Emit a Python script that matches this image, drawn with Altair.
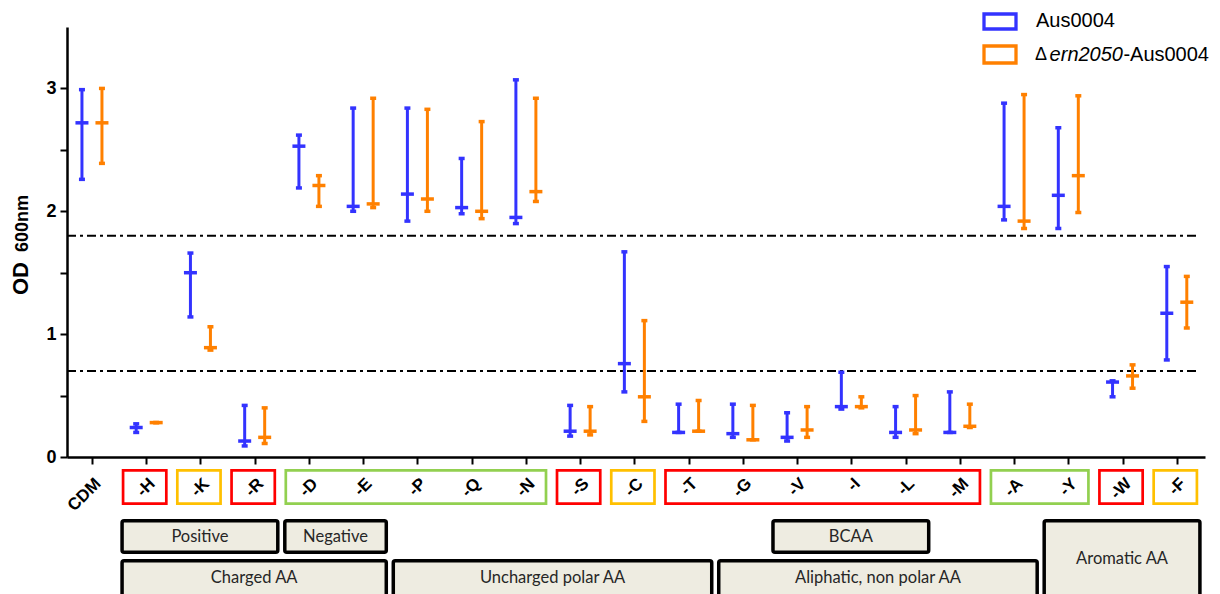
import altair as alt
import pandas as pd

# ---------------- data ----------------
categories = ["CDM", "-H", "-K", "-R", "-D", "-E", "-P", "-Q", "-N", "-S", "-C",
              "-T", "-G", "-V", "-I", "-L", "-M", "-A", "-Y", "-W", "-F"]

aus_mid = [2.72, 0.24, 1.50, 0.13, 2.53, 2.04, 2.14, 2.03, 1.95, 0.21, 0.76,
           0.20, 0.19, 0.16, 0.41, 0.20, 0.20, 2.04, 2.13, 0.61, 1.17]
aus_low = [2.26, 0.20, 1.14, 0.09, 2.19, 2.00, 1.92, 1.98, 1.90, 0.17, 0.53,
           0.20, 0.16, 0.13, 0.39, 0.16, 0.20, 1.93, 1.86, 0.49, 0.79]
aus_high = [2.99, 0.27, 1.66, 0.42, 2.62, 2.84, 2.84, 2.43, 3.07, 0.42, 1.67,
            0.43, 0.43, 0.36, 0.69, 0.41, 0.53, 2.88, 2.68, 0.62, 1.55]

ern_mid = [2.72, 0.28, 0.89, 0.16, 2.21, 2.06, 2.10, 2.00, 2.16, 0.21, 0.49,
           0.21, 0.14, 0.22, 0.41, 0.22, 0.25, 1.92, 2.29, 0.66, 1.26]
ern_low = [2.39, 0.28, 0.87, 0.11, 2.04, 2.03, 2.00, 1.94, 2.08, 0.18, 0.29,
           0.21, 0.14, 0.16, 0.40, 0.19, 0.24, 1.86, 1.99, 0.56, 1.05]
ern_high = [3.00, 0.28, 1.06, 0.40, 2.29, 2.92, 2.83, 2.73, 2.92, 0.41, 1.11,
            0.46, 0.42, 0.41, 0.49, 0.50, 0.43, 2.95, 2.94, 0.75, 1.47]

thresholds = [1.8, 0.7]

label_box_first = ["-H", "-K", "-R", "-D", "-S", "-C", "-T", "-A", "-W", "-F"]
label_box_last = ["-H", "-K", "-R", "-N", "-S", "-C", "-M", "-Y", "-W", "-F"]
label_box_kind = ["red", "amber", "red", "green", "red", "amber", "red", "green", "red", "amber"]

group_names = ["Positive", "Negative", "BCAA", "Charged AA", "Uncharged polar AA",
               "Aliphatic, non polar AA", "Aromatic AA"]
group_first = ["-H", "-D", "-V", "-H", "-P", "-G", "-Y"]
group_last = ["-R", "-E", "-L", "-E", "-T", "-A", "-F"]
group_row = ["top", "top", "top", "bottom", "bottom", "bottom", "both"]

series_names = ["Aus0004", "\u0394ern2050-Aus0004"]

# ---------------- styles ----------------
BLUE = "#3333FF"
ORANGE = "#FF8000"
BOX_COLOURS = {"red": "#FF0000", "amber": "#FFC000", "green": "#92D050"}
FONT = "Liberation Sans"

idx = list(range(len(categories)))
aus = pd.DataFrame({"idx": idx, "mid": aus_mid, "low": aus_low, "high": aus_high})
ern = pd.DataFrame({"idx": idx, "mid": ern_mid, "low": ern_low, "high": ern_high})
thr = pd.DataFrame({"t": thresholds})

lbl = pd.DataFrame({
    "a": [categories.index(c) for c in label_box_first],
    "b": [categories.index(c) for c in label_box_last],
    "kind": label_box_kind,
})
grp = pd.DataFrame({
    "name": group_names,
    "a": [categories.index(c) for c in group_first],
    "b": [categories.index(c) for c in group_last],
    "row": group_row,
})
one = pd.DataFrame({"k": [0]})

x_scale = alt.Scale(domain=[-0.46, 20.52], nice=False, zero=False)
y_scale = alt.Scale(domain=[0, 3.5], nice=False)

label_array = "[" + ",".join("'%s'" % c for c in categories) + "]"

x_axis = alt.Axis(
    values=idx, labelExpr=f"{label_array}[datum.value]", labelAngle=-45,
    labelAlign="right", labelBaseline="top", labelFontSize=17, labelFontWeight="bold",
    labelFont=FONT, labelColor="black", labelPadding=11, labelFlush=False,
    labelOverlap=False, tickSize=7, tickWidth=2, tickColor="black",
    domainWidth=2.5, domainColor="black", title=None, grid=False,
)
y_axis = alt.Axis(
    values=[0, 0.5, 1, 1.5, 2, 2.5, 3],
    labelExpr="datum.value % 1 == 0 ? format(datum.value, 'd') : ''",
    labelFontSize=18, labelFontWeight="bold", labelFont=FONT, labelColor="black",
    labelPadding=4, tickSize=7, tickWidth=2, tickColor="black",
    domainWidth=2.5, domainColor="black", title=None, grid=False,
)


def series_layers(df, colour, offset):
    base = alt.Chart(df)
    rule = base.mark_rule(color=colour, strokeWidth=3, xOffset=offset).encode(
        x=alt.X("idx:Q", scale=x_scale, axis=x_axis),
        y=alt.Y("low:Q", scale=y_scale, axis=y_axis),
        y2="high:Q",
    )
    caps = []
    for field, size in (("low", 6), ("high", 6), ("mid", 13)):
        caps.append(
            base.mark_tick(color=colour, orient="horizontal", size=size, thickness=3.5,
                           xOffset=offset, opacity=1).encode(
                x=alt.X("idx:Q", scale=x_scale),
                y=alt.Y(f"{field}:Q", scale=y_scale),
            )
        )
    return [rule] + caps


thr_layer = alt.Chart(thr).mark_rule(color="black", strokeWidth=2, strokeDash=[9, 4, 3, 4]).encode(
    y=alt.Y("t:Q", scale=y_scale), x=alt.value(0), x2=alt.value(1131)
)

# category label boxes
lbl_layer = alt.Chart(lbl).transform_calculate(
    x0="datum.a - 0.5", x1="datum.b + 0.5"
).mark_rect(fill="white", fillOpacity=0, strokeWidth=2.7, xOffset=4, x2Offset=-7).encode(
    x=alt.X("x0:Q", scale=x_scale), x2="x1:Q",
    y=alt.value(443.3), y2=alt.value(476.7),
    stroke=alt.Stroke("kind:N", scale=alt.Scale(domain=list(BOX_COLOURS.keys()),
                                                range=list(BOX_COLOURS.values())), legend=None),
)

ROWS = {"top": (493.8, 525.2), "bottom": (533.8, 576), "both": (493.8, 576)}
ROW_TEXT_Y = {"top": 509.5, "bottom": 551, "both": 532}
grp_layers = []
for row, (ya, yb) in ROWS.items():
    g = alt.Chart(grp).transform_filter(f"datum.row == '{row}'").transform_calculate(
        x0="datum.a - 0.5", x1="datum.b + 0.5", xm="(datum.a + datum.b) / 2"
    )
    grp_layers.append(
        g.mark_rect(fill="#EEECE1", stroke="black", strokeWidth=3.5, cornerRadius=2,
                    xOffset=3, x2Offset=-4).encode(
            x=alt.X("x0:Q", scale=x_scale), x2="x1:Q", y=alt.value(ya), y2=alt.value(yb)
        )
    )
    grp_layers.append(
        g.mark_text(font="Lato", fontSize=16.5, color="#262626", baseline="middle", xOffset=-0.5).encode(
            x=alt.X("xm:Q", scale=x_scale), y=alt.value(ROW_TEXT_Y[row]), text="name:N"
        )
    )

# y title with subscript
title_layers = [
    alt.Chart(one).mark_text(text="OD", angle=270, align="left", baseline="alphabetic",
                             fontSize=22, fontWeight="bold", font=FONT, color="black").encode(
        x=alt.value(-39), y=alt.value(268)),
    alt.Chart(one).mark_text(text="600nm", angle=270, align="left", baseline="alphabetic",
                             fontSize=18, fontWeight="bold", font=FONT, color="black").encode(
        x=alt.value(-39), y=alt.value(225)),
]

# legend
legend_layers = [
    alt.Chart(one).mark_rect(fill="white", stroke=BLUE, strokeWidth=3.3).encode(
        x=alt.value(917), x2=alt.value(949), y=alt.value(-13), y2=alt.value(2)),
    alt.Chart(one).mark_rect(fill="white", stroke=ORANGE, strokeWidth=3.3).encode(
        x=alt.value(917), x2=alt.value(949), y=alt.value(19), y2=alt.value(36)),
    alt.Chart(one).mark_text(text=series_names[0], align="left", baseline="middle",
                             fontSize=20, font=FONT, color="black").encode(
        x=alt.value(969), y=alt.value(-6)),
    alt.Chart(one).mark_text(text="\u0394", align="left", baseline="middle",
                             fontSize=18, font=FONT, color="black").encode(
        x=alt.value(968), y=alt.value(28)),
    alt.Chart(one).mark_text(text="ern2050", align="right", baseline="middle", fontStyle="italic",
                             fontSize=20, font=FONT, color="black").encode(
        x=alt.value(1056), y=alt.value(28)),
    alt.Chart(one).mark_text(text="-Aus0004", align="right", baseline="middle",
                             fontSize=20, font=FONT, color="black").encode(
        x=alt.value(1142), y=alt.value(28)),
]

layers = ([thr_layer] + series_layers(aus, BLUE, -10) + series_layers(ern, ORANGE, 10)
          + [lbl_layer] + grp_layers + title_layers + legend_layers)

chart = alt.layer(*layers).properties(
    width=1138, height=430,
    autosize=alt.AutoSizeParams(type="none"),
    padding={"left": 59, "top": 19, "right": 7, "bottom": 137},
    background="white",
).configure_view(stroke=None)

chart.save("out.html", embed_options={"renderer": "svg", "actions": False})
